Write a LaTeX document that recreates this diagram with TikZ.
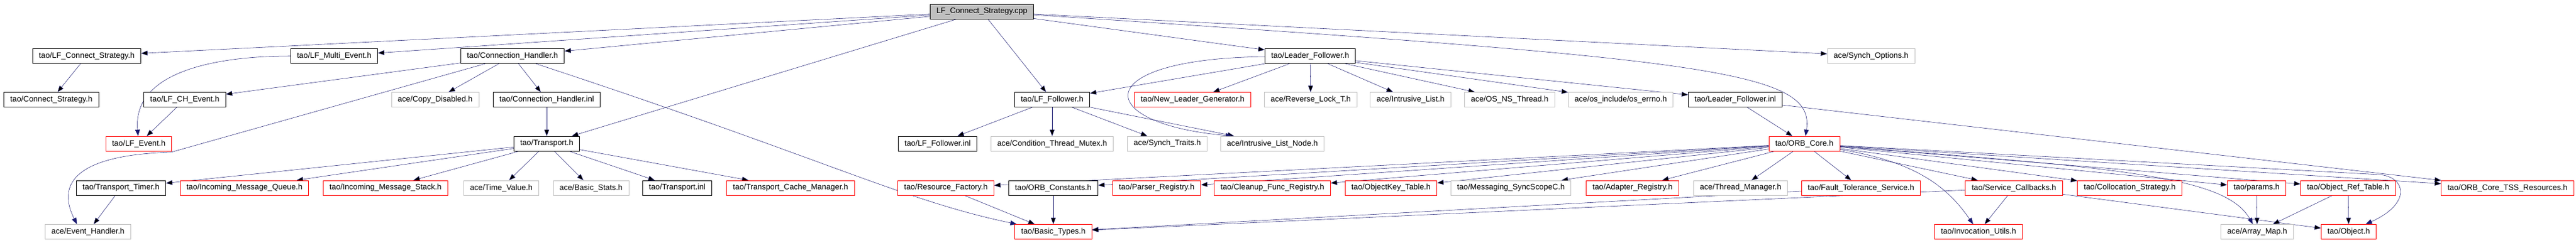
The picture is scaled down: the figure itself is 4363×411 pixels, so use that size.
\documentclass[tikz,border=0pt]{standalone}
\usepackage{fontspec}
\setmainfont{Liberation Sans}
\usetikzlibrary{arrows.meta,backgrounds}
\definecolor{edgeblue}{RGB}{25,25,112}
\definecolor{extgray}{RGB}{191,191,191}

\begin{document}
\begin{tikzpicture}[x=0.75pt,y=-0.75pt,>={Triangle[length=8pt,width=6pt]},line width=0.7pt,font=\fontsize{10}{12}\selectfont]
		\tikzstyle{header}=[rectangle,draw=black,fill=white,minimum height=18.75pt,inner xsep=8pt,inner ysep=0pt]
		\tikzstyle{undoc}=[header, draw=red]
		\tikzstyle{extern}=[header, draw=extgray]
		\tikzstyle{mainfile}=[header, fill=extgray]
		\tikzstyle{dep}=[->, draw=edgeblue]

		\useasboundingbox (0,0) rectangle (4363,411);

		\node[mainfile] (root) at (1663,19.5) {LF\_Connect\_Strategy.cpp};

		\node[header] (lfcs) at (147,95) {tao/LF\_Connect\_Strategy.h};
		\node[header] (lfme) at (566,95) {tao/LF\_Multi\_Event.h};
		\node[header] (ch) at (868,95) {tao/Connection\_Handler.h};
		\node[header] (lf) at (2219,95) {tao/Leader\_Follower.h};
		\node[extern] (synopt) at (3169,95) {ace/Synch\_Options.h};

		\node[header] (cs) at (87,169) {tao/Connect\_Strategy.h};
		\node[header] (lfche) at (313,169) {tao/LF\_CH\_Event.h};
		\node[extern] (copyd) at (737,169) {ace/Copy\_Disabled.h};
		\node[header] (chinl) at (926,169) {tao/Connection\_Handler.inl};
		\node[header] (lff) at (1782,169) {tao/LF\_Follower.h};
		\node[undoc] (nlg) at (2020,169) {tao/New\_Leader\_Generator.h};
		\node[extern] (rlock) at (2220,169) {ace/Reverse\_Lock\_T.h};
		\node[extern] (ilist) at (2389,169) {ace/Intrusive\_List.h};
		\node[extern] (osthr) at (2557,169) {ace/OS\_NS\_Thread.h};
		\node[extern] (errno) at (2745,169) {ace/os\_include/os\_errno.h};
		\node[header] (lfinl) at (2939,169) {tao/Leader\_Follower.inl};

		\node[undoc] (lfev) at (235,243.5) {tao/LF\_Event.h};
		\node[header] (trans) at (926,243.5) {tao/Transport.h};
		\node[header] (lffinl) at (1588,243.5) {tao/LF\_Follower.inl};
		\node[extern] (ctm) at (1782,243.5) {ace/Condition\_Thread\_Mutex.h};
		\node[extern] (straits) at (1977,243.5) {ace/Synch\_Traits.h};
		\node[extern] (ilnode) at (2155,243.5) {ace/Intrusive\_List\_Node.h};
		\node[undoc] (orbc) at (3056,243.5) {tao/ORB\_Core.h};

		\node[header] (ttimer) at (205,318.5) {tao/Transport\_Timer.h};
		\node[undoc] (imq) at (414,318.5) {tao/Incoming\_Message\_Queue.h};
		\node[undoc] (ims) at (653,318.5) {tao/Incoming\_Message\_Stack.h};
		\node[extern] (tval) at (849,318.5) {ace/Time\_Value.h};
		\node[extern] (bstats) at (1001,318.5) {ace/Basic\_Stats.h};
		\node[header] (tinl) at (1147,318.5) {tao/Transport.inl};
		\node[undoc] (tcm) at (1339,318.5) {tao/Transport\_Cache\_Manager.h};
		\node[undoc] (rfac) at (1602,318.5) {tao/Resource\_Factory.h};
		\node[header] (orbconst) at (1784,318.5) {tao/ORB\_Constants.h};
		\node[undoc] (preg) at (1959,318.5) {tao/Parser\_Registry.h};
		\node[undoc] (cfreg) at (2155,318.5) {tao/Cleanup\_Func\_Registry.h};
		\node[undoc] (okt) at (2356,318.5) {tao/ObjectKey\_Table.h};
		\node[extern] (msync) at (2559,318.5) {tao/Messaging\_SyncScopeC.h};
		\node[undoc] (areg) at (2765,318.5) {tao/Adapter\_Registry.h};
		\node[extern] (tmgr) at (2948,318.5) {ace/Thread\_Manager.h};
		\node[undoc] (fts) at (3152,318.5) {tao/Fault\_Tolerance\_Service.h};
		\node[undoc] (scb) at (3411,318.5) {tao/Service\_Callbacks.h};
		\node[undoc] (colloc) at (3607,318.5) {tao/Collocation\_Strategy.h};
		\node[undoc] (params) at (3822,318.5) {tao/params.h};
		\node[undoc] (ort) at (3977,318.5) {tao/Object\_Ref\_Table.h};
		\node[undoc] (tss) at (4247,318.5) {tao/ORB\_Core\_TSS\_Resources.h};

		\node[extern] (evh) at (149,393) {ace/Event\_Handler.h};
		\node[undoc] (btypes) at (1784,393) {tao/Basic\_Types.h};
		\node[undoc] (iutils) at (3351,393) {tao/Invocation\_Utils.h};
		\node[extern] (amap) at (3823,393) {ace/Array\_Map.h};
		\node[undoc] (obj) at (3978,393) {tao/Object.h};

		\begin{pgfonlayer}{background}
		\draw[dep] (root) edge (lfcs) edge (lfme) edge (ch) edge (trans) edge (lff) edge (lf) edge (synopt);
		\draw[dep] (root) .. controls (2900,100) and (3075,120) .. (orbc);
		\draw[dep] (lfcs) edge (cs);
		\draw[dep] (lfme) to[out=180,in=95] (lfev);
		\draw[dep] (lfche) edge (lfev);
		\draw[dep] (ch) edge (lfche) edge (copyd) edge (chinl);
		\draw[dep] (ch) -- (290,258) .. controls (150,262) and (90,300) .. ([xshift=-14pt]evh.north);
		\draw[dep] (ch) .. controls (1400,270) and (1530,340) .. (btypes);
		\draw[dep] (chinl) edge (trans);
		\draw[dep] (trans) edge (ttimer) edge (imq) edge (ims) edge (tval) edge (bstats) edge (tinl) edge (tcm);
		\draw[dep] (ttimer) edge (evh);
		\draw[dep] (lff) edge (lffinl) edge (ctm) edge (straits) edge (ilnode);
		\draw[dep] (lf) edge (lff) edge (nlg) edge (rlock) edge (ilist) edge (osthr) edge (errno) edge (lfinl);
		\draw[dep] (lf) .. controls (1840,100) and (1850,210) .. ([xshift=15pt]ilnode.north west);
		\draw[dep] (lfinl) edge (orbc) edge (tss);
		\draw[dep] (orbc) edge (rfac) edge (orbconst) edge (preg) edge (cfreg) edge (okt) edge (msync) edge (areg) edge (tmgr)
			edge (fts) edge (scb) edge (colloc) edge (params) edge (ort) edge (tss);
		\draw[dep] (orbc) .. controls (3250,275) and (3300,320) .. (iutils);
		\draw[dep] (orbc) .. controls (3600,285) and (3770,300) .. (amap);
		\draw[dep] (orbc) -- (4030,296) .. controls (4075,300) and (4085,345) .. (obj);
		\draw[dep] (rfac) edge (btypes);
		\draw[dep] (orbconst) edge (btypes);
		\draw[dep] (fts) edge (btypes);
		\draw[dep] (scb) edge (btypes) edge (iutils) edge (obj);
		\draw[dep] (params) edge (amap);
		\draw[dep] (ort) edge (amap) edge (obj);
		\end{pgfonlayer}
\end{tikzpicture}
\end{document}
